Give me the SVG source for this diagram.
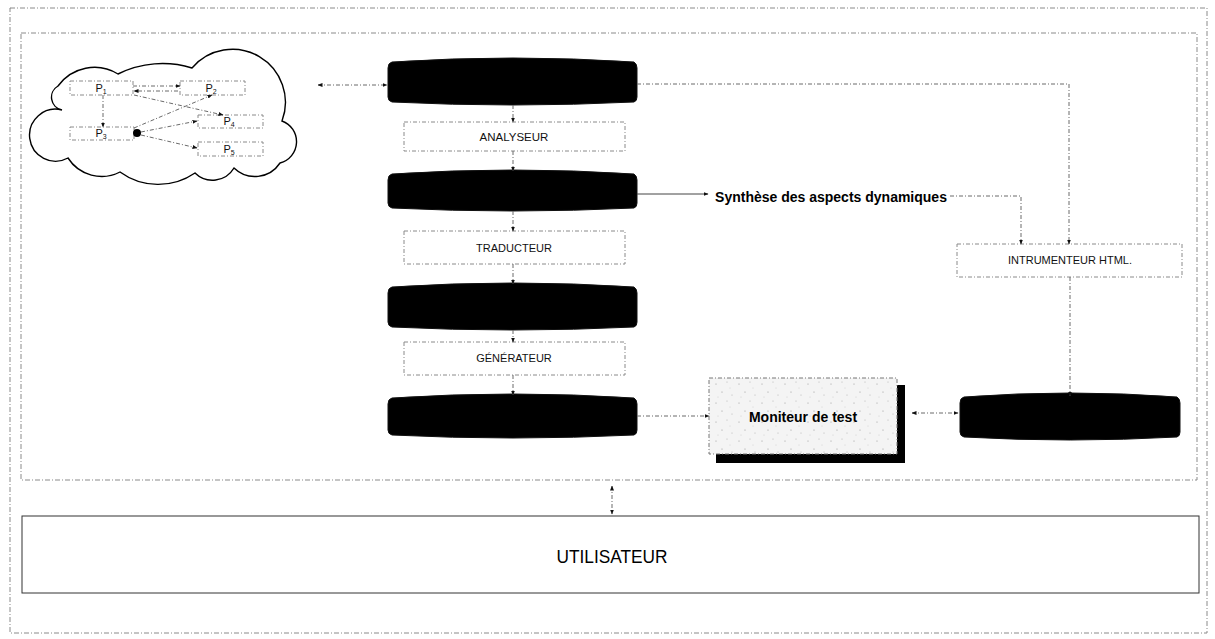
<svg xmlns="http://www.w3.org/2000/svg" width="1215" height="639" viewBox="0 0 1215 639">
<defs>
<style>
.frame{fill:none;stroke:#8a8a8a;stroke-width:1;stroke-dasharray:5 2 1 2}
.box{fill:#fff;stroke:#8a8a8a;stroke-width:1;stroke-dasharray:4 2 1 2}
.cyl{fill:#000;stroke:#111;stroke-width:1}
.con{fill:none;stroke:#6a6a6a;stroke-width:1;stroke-dasharray:4 2 1 2}
.conS{fill:none;stroke:#444;stroke-width:1}
.lbl{font-family:"Liberation Sans",Arial,sans-serif;fill:#111;text-anchor:middle}
.p{font-family:"Liberation Sans",Arial,sans-serif;font-size:11px;fill:#111;text-anchor:middle}
</style>
<marker id="ah" viewBox="0 0 10 10" refX="9" refY="5" markerWidth="5" markerHeight="5" orient="auto-start-reverse" markerUnits="userSpaceOnUse">
<path d="M0,1 L10,5 L0,9 Z" fill="#111"/>
</marker>
<pattern id="speck" width="23" height="19" patternUnits="userSpaceOnUse">
<rect width="23" height="19" fill="#f4f4f4"/>
<circle cx="3" cy="4" r="0.6" fill="#9a9a9a"/>
<circle cx="14" cy="2" r="0.5" fill="#aaa"/>
<circle cx="9" cy="12" r="0.6" fill="#999"/>
<circle cx="19" cy="15" r="0.5" fill="#aaa"/>
<circle cx="17" cy="8" r="0.4" fill="#b0b0b0"/>
<circle cx="5" cy="17" r="0.4" fill="#aaa"/>
</pattern>
</defs>
<rect width="1215" height="639" fill="#fff"/>

<g id="outer-frame"><rect class="frame" x="10" y="8" width="1197" height="625"/></g>
<g id="inner-frame"><rect class="frame" x="21" y="33" width="1176" height="447"/></g>

<g id="cloud">
<path d="M62,110 A13,13 0 0 1 58,86 A45,45 0 0 1 118,74 A100,100 0 0 1 192,68 A53,53 0 0 1 282,121 A22,22 0 0 1 280,163 A30,30 0 0 1 234,168 A25,25 0 0 1 195,173 A65,65 0 0 1 120,172 A40,40 0 0 1 68,158 A26,26 0 1 1 62,110 Z" fill="#fff" stroke="#000" stroke-width="1.4"/>
<g id="p1"><rect class="box" x="70" y="81" width="63" height="14"/><text class="p" x="101" y="92">P<tspan font-size="7" dy="2">1</tspan></text></g>
<g id="p2"><rect class="box" x="180" y="81" width="65" height="14"/><text class="p" x="211" y="92">P<tspan font-size="7" dy="2">2</tspan></text></g>
<g id="p3"><rect class="box" x="70" y="127" width="64" height="13"/><text class="p" x="101" y="137">P<tspan font-size="7" dy="2">3</tspan></text></g>
<g id="p4"><rect class="box" x="198" y="115" width="65" height="13"/><text class="p" x="229" y="125">P<tspan font-size="7" dy="2">4</tspan></text></g>
<g id="p5"><rect class="box" x="198" y="142" width="65" height="14"/><text class="p" x="229" y="153">P<tspan font-size="7" dy="2">5</tspan></text></g>
<circle id="junction" cx="137" cy="133" r="4" fill="#000"/>
<g id="cloud-connectors">
<line class="con" x1="133" y1="86" x2="180" y2="86" marker-end="url(#ah)"/>
<line class="con" x1="178" y1="91" x2="134" y2="91" marker-end="url(#ah)"/>
<line class="con" x1="103" y1="95" x2="103" y2="127" marker-end="url(#ah)"/>
<line class="con" x1="134" y1="95" x2="223" y2="115" marker-end="url(#ah)"/>
<line class="con" x1="134" y1="128" x2="212" y2="95" marker-end="url(#ah)"/>
<line class="con" x1="141" y1="132" x2="197" y2="121" marker-end="url(#ah)"/>
<line class="con" x1="141" y1="135" x2="197" y2="148" marker-end="url(#ah)"/>
</g>
</g>

<g id="cyl1"><path class="cyl" d="M392,62 Q513,54 634,62 Q637,64 637,68 L637,97 Q637,101 634,102 Q513,108 392,102 Q388,101 388,97 L388,68 Q388,63 392,62 Z"/></g>
<g id="analyseur"><rect class="box" x="404" y="122" width="221" height="29"/><text class="lbl" x="514" y="141" font-size="11.5">ANALYSEUR</text></g>
<g id="cyl2"><path class="cyl" d="M392,174 Q513,166 634,174 Q637,176 637,180 L637,203 Q637,207 634,208 Q513,214 392,208 Q388,207 388,203 L388,180 Q388,175 392,174 Z"/></g>
<g id="traducteur"><rect class="box" x="404" y="231" width="221" height="33"/><text class="lbl" x="514" y="252" font-size="11">TRADUCTEUR</text></g>
<g id="cyl3"><path class="cyl" d="M392,287 Q513,279 634,287 Q637,289 637,293 L637,322 Q637,326 634,327 Q513,333 392,327 Q388,326 388,322 L388,293 Q388,288 392,287 Z"/></g>
<g id="generateur"><rect class="box" x="404" y="342" width="221" height="33"/><text class="lbl" x="514" y="362" font-size="11">GÉNÉRATEUR</text></g>
<g id="cyl4"><path class="cyl" d="M392,398 Q513,390 634,398 Q637,400 637,404 L637,430 Q637,434 634,435 Q513,441 392,435 Q388,434 388,430 L388,404 Q388,399 392,398 Z"/></g>

<g id="synthese"><text x="831" y="202" font-family="'Liberation Sans',Arial,sans-serif" font-size="14" font-weight="bold" fill="#000" text-anchor="middle">Synthèse des aspects dynamiques</text></g>
<g id="instrumenteur"><rect class="box" x="957" y="244" width="225" height="33"/><text class="lbl" x="1070" y="264" font-size="11">INTRUMENTEUR HTML.</text></g>
<g id="cyl5"><path class="cyl" d="M964,397 Q1070,389 1177,397 Q1180,399 1180,403 L1180,432 Q1180,436 1177,437 Q1070,443 964,437 Q960,436 960,432 L960,403 Q960,398 964,397 Z"/></g>

<g id="moniteur">
<rect x="716" y="385" width="189" height="78" fill="#000"/>
<rect x="709" y="378" width="188" height="76" fill="url(#speck)" stroke="#777" stroke-width="1" stroke-dasharray="4 2 1 2"/>
<text x="803" y="422" font-family="'Liberation Sans',Arial,sans-serif" font-size="14" font-weight="bold" fill="#000" text-anchor="middle">Moniteur de test</text>
</g>

<g id="utilisateur">
<rect x="22" y="516" width="1177" height="77" fill="#fff" stroke="#333" stroke-width="1"/>
<text x="612" y="563" font-family="'Liberation Sans',Arial,sans-serif" font-size="19" fill="#000" text-anchor="middle" textLength="111" lengthAdjust="spacingAndGlyphs">UTILISATEUR</text>
</g>

<g id="connectors">
<line class="con" x1="318" y1="85" x2="387" y2="85" marker-start="url(#ah)" marker-end="url(#ah)"/>
<line class="con" x1="513" y1="105" x2="513" y2="122" marker-end="url(#ah)"/>
<line class="con" x1="513" y1="151" x2="513" y2="171" marker-end="url(#ah)"/>
<line class="con" x1="513" y1="211" x2="513" y2="231" marker-end="url(#ah)"/>
<line class="con" x1="513" y1="264" x2="513" y2="284" marker-end="url(#ah)"/>
<line class="con" x1="513" y1="330" x2="513" y2="342" marker-end="url(#ah)"/>
<line class="con" x1="513" y1="375" x2="513" y2="395" marker-end="url(#ah)"/>
<line class="conS" x1="637" y1="194" x2="708" y2="194" marker-end="url(#ah)"/>
<path class="con" d="M950,196 H1021 V244" marker-end="url(#ah)"/>
<path class="con" d="M637,84 H1069 V244" marker-end="url(#ah)"/>
<line class="con" x1="1070" y1="277" x2="1070" y2="396" marker-end="url(#ah)"/>
<line class="con" x1="637" y1="416" x2="709" y2="416" marker-end="url(#ah)"/>
<line class="con" x1="912" y1="413" x2="958" y2="413" marker-start="url(#ah)" marker-end="url(#ah)"/>
<line class="con" x1="612" y1="486" x2="612" y2="514" marker-start="url(#ah)" marker-end="url(#ah)"/>
</g>
</svg>
